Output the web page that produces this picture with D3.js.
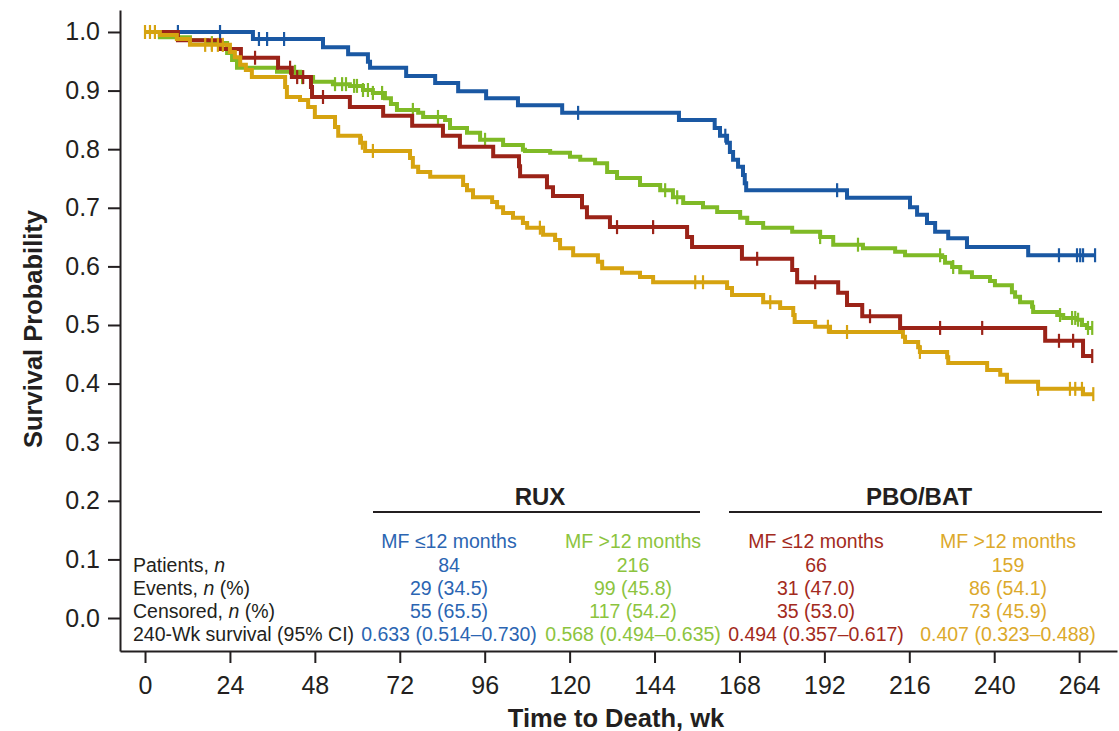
<!DOCTYPE html>
<html>
<head>
<meta charset="utf-8">
<script src="https://cdn.jsdelivr.net/npm/d3@7"></script>
<style>
  body { margin: 0; background: #fff; }
  svg { font-family: "Liberation Sans", Arial, Helvetica, sans-serif; }
</style>
</head>
<body>
<svg id="chart" width="1119" height="731"></svg>
<script>
// Kaplan-Meier curves, event steps (week, survival after drop) + censor weeks

var blueT = [30.5, 50.3, 57.4, 63, 63.6, 73.8, 82, 88.5, 96.4, 105.4, 117.9, 150.9, 161, 162.5, 164.5, 165.3, 166.2, 167.6, 169, 169.5, 169.9, 198.4, 216.2, 218.2, 221, 223.3, 227, 232.3, 249.6];
var blueS = [0.988, 0.974, 0.962, 0.949, 0.939, 0.925, 0.913, 0.899, 0.887, 0.875, 0.862, 0.850, 0.836, 0.823, 0.811, 0.795, 0.782, 0.770, 0.756, 0.742, 0.730, 0.717, 0.701, 0.688, 0.674, 0.659, 0.648, 0.633, 0.619];
var blueC = [9.3, 21.2, 32.2, 34.5, 39.3, 122.4, 164, 195.6, 258.3, 263.4, 264.3, 265.1, 268.5];

var greenT = [4.2, 12.7, 17.5, 23.2, 24.6, 26, 37.3, 43.8, 47.5, 53.1, 57.9, 61.6, 64.4, 67.8, 69.5, 71.2, 77.2, 78.6, 84.8, 86.2, 91, 94.7, 101.2, 106.8, 107.4, 114.5, 120.1, 123, 127.2, 130.6, 133.4, 139.9, 145.6, 149.2, 152.1, 157.7, 161.7, 168.2, 170.2, 174.7, 182.9, 190.8, 194.5, 202.9, 212, 214.8, 225.3, 226.1, 228.1, 230.4, 233.7, 238.8, 240.2, 245, 245.9, 247.3, 250.7, 251, 257.8, 259.5, 263.4, 264.8, 266.2];
var greenS = [0.991, 0.986, 0.981, 0.964, 0.952, 0.939, 0.932, 0.923, 0.915, 0.911, 0.908, 0.901, 0.896, 0.887, 0.877, 0.867, 0.862, 0.855, 0.850, 0.836, 0.828, 0.816, 0.807, 0.799, 0.797, 0.794, 0.787, 0.782, 0.776, 0.761, 0.751, 0.739, 0.730, 0.718, 0.708, 0.701, 0.693, 0.683, 0.674, 0.666, 0.659, 0.650, 0.637, 0.631, 0.625, 0.619, 0.616, 0.606, 0.599, 0.590, 0.582, 0.575, 0.568, 0.556, 0.548, 0.539, 0.531, 0.522, 0.517, 0.512, 0.509, 0.500, 0.495];
var greenC = [18.9, 42.4, 44.4, 53.7, 55.7, 56.8, 59.1, 59.9, 61.6, 63, 64.4, 67, 75.7, 82.8, 96.1, 147, 150.4, 190.8, 201.5, 224.7, 228.4, 258.6, 262, 262.9, 263.7, 266.5, 267.7];

var redT = [9.3, 21.2, 27.1, 37.6, 41.5, 46.9, 47.2, 57.9, 67.3, 75.5, 84.2, 89, 98.4, 105.7, 106, 113.6, 115.3, 123.5, 124.9, 131.4, 153.2, 154.6, 168.7, 182.9, 184.3, 195.9, 198.4, 202.7, 213.4, 254.4, 265.1];
var redS = [0.986, 0.971, 0.956, 0.939, 0.923, 0.906, 0.889, 0.872, 0.857, 0.840, 0.823, 0.804, 0.788, 0.771, 0.754, 0.735, 0.720, 0.701, 0.684, 0.667, 0.650, 0.633, 0.613, 0.594, 0.573, 0.555, 0.534, 0.515, 0.495, 0.473, 0.447];
var redC = [31.1, 41, 43, 44.7, 50.3, 133.4, 143.6, 173, 189.4, 204.9, 224.7, 236.6, 258.3, 262.3, 267.7];

var goldT = [4.2, 9.0, 12.7, 24, 25.4, 26.9, 28.5, 30.2, 39.6, 40.1, 43.8, 46.1, 48.0, 53.7, 54.6, 60.8, 62.2, 74.9, 75.7, 77.2, 80.6, 89.9, 91.0, 92.7, 98.1, 99.5, 101.2, 104.0, 106.8, 108.0, 112.5, 115.9, 117.3, 121.0, 128.0, 129.2, 134.8, 139.9, 143.6, 164.5, 165.9, 174.7, 179.5, 183.2, 183.6, 189.4, 193.6, 214.2, 214.8, 218.5, 219, 226.7, 227, 238, 241.7, 243.6, 252.4, 265.1];
var goldS = [0.995, 0.988, 0.978, 0.966, 0.957, 0.944, 0.935, 0.923, 0.906, 0.889, 0.884, 0.872, 0.855, 0.838, 0.823, 0.811, 0.797, 0.785, 0.770, 0.761, 0.753, 0.739, 0.730, 0.718, 0.710, 0.701, 0.691, 0.683, 0.674, 0.666, 0.654, 0.645, 0.631, 0.619, 0.608, 0.597, 0.589, 0.582, 0.573, 0.563, 0.551, 0.539, 0.529, 0.517, 0.505, 0.497, 0.488, 0.480, 0.471, 0.462, 0.454, 0.445, 0.435, 0.423, 0.415, 0.403, 0.391, 0.382];
var goldC = [0, 1.4, 2.8, 17, 18.9, 20.6, 22, 61.3, 64.4, 111.6, 155.5, 157.7, 176.7, 193, 198.4, 219, 252.4, 261.4, 262.9, 264.8, 268];

// table
var arms = ["RUX", "PBO/BAT"];
var groupNames = ["MF \u226412 months", "MF >12 months", "MF \u226412 months", "MF >12 months"];
var patients = ["84", "216", "66", "159"];
var events = ["29 (34.5)", "99 (45.8)", "31 (47.0)", "86 (54.1)"];
var censored = ["55 (65.5)", "117 (54.2)", "35 (53.0)", "73 (45.9)"];
var surv240 = ["0.633 (0.514\u20130.730)", "0.568 (0.494\u20130.635)", "0.494 (0.357\u20130.617)", "0.407 (0.323\u20130.488)"];

var xTicks = d3.range(0, 265, 24);
var yTicks = d3.range(0, 11).map(function(d){ return d / 10; });

var lineCol = ["#1a58a3", "#7fba26", "#9b2318", "#d6a310"];
var textCol = ["#2b65b2", "#8cc43e", "#a32a20", "#dca92b"];


var svg = d3.select("#chart");

var x = d3.scaleLinear().domain([-7.07, 274.7]).range([120, 1117]);
var y = d3.scaleLinear().domain([-0.0563, 1.0375]).range([651, 10]);


// axes
var xAxis = svg.append("g")
	.attr("transform", "translate(0,651)")
	.call(d3.axisBottom(x).tickValues(xTicks).tickSize(12).tickSizeOuter(0).tickPadding(13));
var yAxis = svg.append("g")
	.attr("transform", "translate(120,0)")
	.call(d3.axisLeft(y).tickValues(yTicks).tickSize(12).tickSizeOuter(0).tickPadding(8)
		.tickFormat(d3.format(".1f")));

[xAxis, yAxis].forEach(function(a){
	a.selectAll("path, line").attr("stroke", "#231f20").attr("stroke-width", 2);
	a.selectAll("text").attr("fill", "#231f20").style("font-size", "25px").style("font-family", "Liberation Sans, Arial, sans-serif");
});

svg.append("text")
	.attr("transform", "translate(42,329) rotate(-90)")
	.attr("text-anchor", "middle")
	.style("font-size", "25.5px").style("font-weight", "bold")
	.attr("fill", "#231f20")
	.text("Survival Probability");

svg.append("text")
	.attr("x", 616).attr("y", 727)
	.attr("text-anchor", "middle")
	.style("font-size", "25.5px").style("font-weight", "bold")
	.attr("fill", "#231f20")
	.text("Time to Death, wk");


// curves
var curves = [
	{T: blueT, S: blueS, C: blueC},
	{T: greenT, S: greenS, C: greenC},
	{T: redT, S: redS, C: redC},
	{T: goldT, S: goldS, C: goldC}
];

function survAt(c, t){
	var s = 1;
	for (var i = 0; i < c.T.length; i++){
		if (c.T[i] <= t) s = c.S[i];
	}
	return s;
}

var step = d3.line()
	.x(function(d){ return x(d[0]); })
	.y(function(d){ return y(d[1]); })
	.curve(d3.curveStepAfter);

curves.forEach(function(c, k){
	var pts = [[0, 1]];
	for (var i = 0; i < c.T.length; i++) pts.push([c.T[i], c.S[i]]);
	var tEnd = Math.max(c.T[c.T.length - 1], d3.max(c.C));
	pts.push([tEnd, c.S[c.S.length - 1]]);

	var g = svg.append("g").attr("class", "km");
	g.append("path")
		.datum(pts)
		.attr("d", step)
		.attr("fill", "none")
		.attr("stroke", lineCol[k])
		.attr("stroke-width", 4);

	g.selectAll("line.cens")
		.data(c.C)
		.enter().append("line")
		.attr("class", "cens")
		.attr("x1", function(d){ return x(d); })
		.attr("x2", function(d){ return x(d); })
		.attr("y1", function(d){ return y(survAt(c, d)) - 7; })
		.attr("y2", function(d){ return y(survAt(c, d)) + 7; })
		.attr("stroke", lineCol[k])
		.attr("stroke-width", 2.2);
});


// table under the curves
var colX = [449, 633, 816, 1008];
var rowY = [548, 572, 595, 618, 641];

var armX = [540, 919];
var armLine = [[373, 700], [729, 1102]];
arms.forEach(function(a, i){
	svg.append("text")
		.attr("x", armX[i]).attr("y", 505)
		.attr("text-anchor", "middle")
		.style("font-size", "24px").style("font-weight", "bold")
		.attr("fill", "#231f20")
		.text(a);
	svg.append("line")
		.attr("x1", armLine[i][0]).attr("x2", armLine[i][1])
		.attr("y1", 512).attr("y2", 512)
		.attr("stroke", "#231f20").attr("stroke-width", 1.8);
});

var rowLabels = [
	[["Patients, ", false], ["n", true]],
	[["Events, ", false], ["n", true], [" (%)", false]],
	[["Censored, ", false], ["n", true], [" (%)", false]],
	[["240-Wk survival (95% CI)", false]]
];
rowLabels.forEach(function(parts, r){
	var t = svg.append("text")
		.attr("x", 133).attr("y", rowY[r + 1])
		.style("font-size", "19.5px")
		.attr("fill", "#231f20");
	parts.forEach(function(p){
		t.append("tspan").style("font-style", p[1] ? "italic" : "normal").text(p[0]);
	});
});

var rows = [groupNames, patients, events, censored, surv240];
rows.forEach(function(vals, r){
	svg.selectAll(null)
		.data(vals)
		.enter().append("text")
		.attr("x", function(d, i){ return colX[i]; })
		.attr("y", rowY[r])
		.attr("text-anchor", "middle")
		.style("font-size", "19.5px")
		.attr("fill", function(d, i){ return textCol[i]; })
		.text(function(d){ return d; });
});
</script>
</body>
</html>
